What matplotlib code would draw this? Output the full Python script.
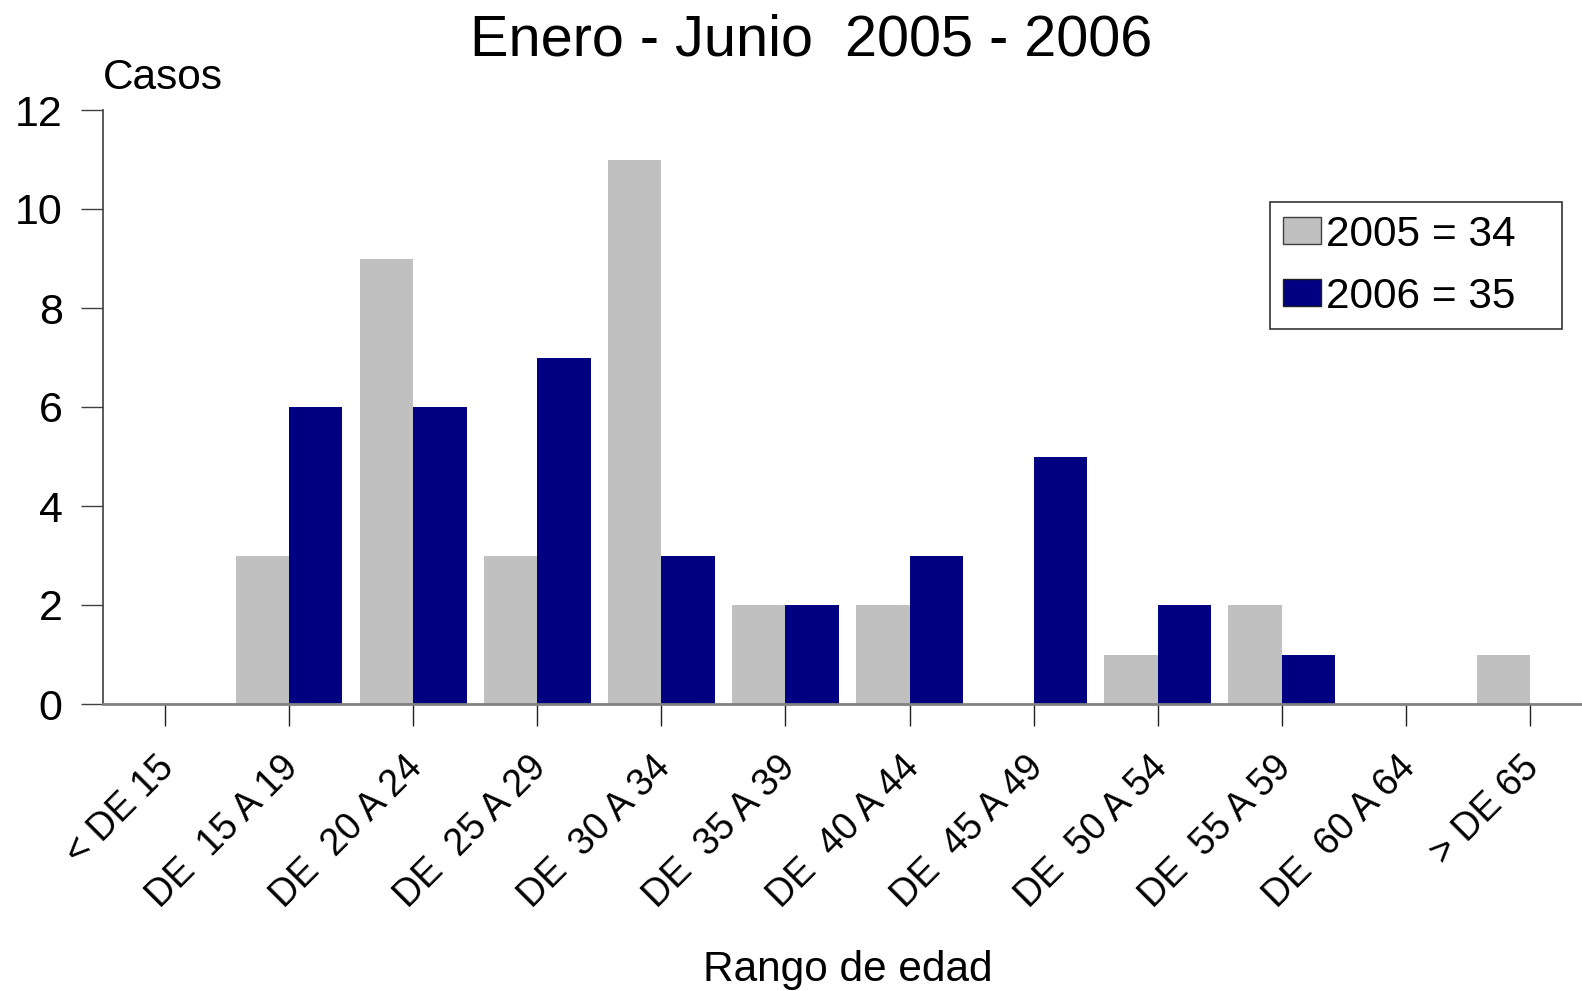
import matplotlib
matplotlib.use("Agg")
import matplotlib.pyplot as plt
import matplotlib.transforms as mtransforms
from matplotlib.patches import Patch
import numpy as np

plt.rcParams['font.family'] = ['Liberation Sans', 'DejaVu Sans']

# Datos
rangos = ["< DE 15", "DE  15 A 19", "DE  20 A 24", "DE  25 A 29", "DE  30 A 34",
          "DE  35 A 39", "DE  40 A 44", "DE  45 A 49", "DE  50 A 54",
          "DE  55 A 59", "DE  60 A 64", "> DE 65"]
casos_2005 = [0, 3, 9, 3, 11, 2, 2, 0, 1, 2, 0, 1]
casos_2006 = [0, 6, 6, 7, 3, 2, 3, 5, 2, 1, 0, 0]
etiquetas = ["2005 = 34", "2006 = 35"]
colores = ['#C0C0C0', '#000080']

fig = plt.figure(figsize=(15.82, 9.91), dpi=100)
ax = fig.add_axes([103 / 1582, 1 - 704 / 991, 1 - 103 / 1582, (704 - 110) / 991])

x = np.arange(len(rangos))
w = 0.43
ax.bar(x - w / 2, casos_2005, width=w, color=colores[0], linewidth=0)
ax.bar(x + w / 2, casos_2006, width=w, color=colores[1], linewidth=0)

ax.set_xlim(-0.5, 11.42)
ax.set_ylim(0, 12)
ax.set_yticks(range(0, 13, 2))
ax.set_xticks(x)
ax.set_xticklabels(rangos, rotation=45, ha='right', va='baseline', rotation_mode='anchor')

ax.spines['top'].set_visible(False)
ax.spines['right'].set_visible(False)
ax.spines['left'].set_color('#404040')
ax.spines['left'].set_linewidth(1.2)
ax.spines['bottom'].set_color('#808080')
ax.spines['bottom'].set_linewidth(2)

ax.tick_params(axis='y', length=16, width=1, color='#404040', labelsize=31, pad=13)
ax.tick_params(axis='x', length=16, width=1, color='#202020', labelsize=27, pad=31)

# desplazar etiquetas del eje x un poco a la derecha
offset = mtransforms.ScaledTranslation(0.11, 0, fig.dpi_scale_trans)
for lab in ax.get_xticklabels():
    lab.set_transform(lab.get_transform() + offset)

fig.text(811 / 1582, 1 - 41 / 991, "Enero - Junio  2005 - 2006", ha='center', va='center', fontsize=41.5)
fig.text(103 / 1582, 1 - 78 / 991, "Casos", ha='left', va='center', fontsize=30.5)
fig.text(848 / 1582, 1 - 970 / 991, "Rango de edad", ha='center', va='center', fontsize=30.5)

handles = [Patch(facecolor=colores[0], edgecolor='#404040', linewidth=1),
           Patch(facecolor=colores[1], edgecolor='#202020', linewidth=1)]
leg = fig.legend(handles, etiquetas, loc='upper left', mode='expand',
                 bbox_to_anchor=(1270 / 1582, 1 - 326 / 991, (1562 - 1270) / 1582, (326 - 202) / 991),
                 bbox_transform=fig.transFigure,
                 borderaxespad=0, fontsize=30.5, frameon=True, fancybox=False,
                 handlelength=0.9, handleheight=0.6, handletextpad=0.12,
                 borderpad=0.3, labelspacing=0.52)
leg.get_frame().set_edgecolor('black')
leg.get_frame().set_linewidth(1.2)

fig.savefig("out.png", dpi=100)
